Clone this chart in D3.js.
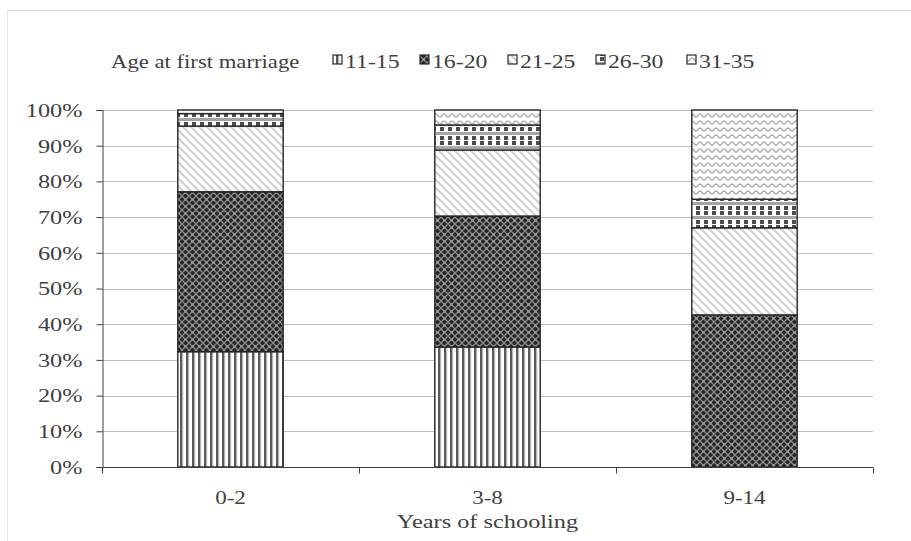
<!DOCTYPE html>
<html>
<head>
<meta charset="utf-8">
<script src="https://cdn.jsdelivr.net/npm/d3@7"></script>
<style>
  html, body { margin: 0; padding: 0; background: #fff; }
  svg { display: block; }
  text { font-family: "Liberation Serif", "DejaVu Serif", serif; fill: #404040; }
</style>
</head>
<body>
<svg id="chart" width="911" height="541"></svg>
<script>
// ---- data ----
const categories = ["0-2", "3-8", "9-14"];
const seriesNames = ["11-15", "16-20", "21-25", "26-30", "31-35"];
const s11_15 = [32.3, 33.6, 0.0];
const s16_20 = [44.8, 36.7, 42.6];
const s21_25 = [18.4, 18.5, 24.4];
const s26_30 = [3.5, 7.0, 8.0];
const s31_35 = [1.0, 4.2, 25.0];
const yTicks = [0, 10, 20, 30, 40, 50, 60, 70, 80, 90, 100];
const legendTitle = "Age at first marriage";
const xTitle = "Years of schooling";

const seriesValues = [s11_15, s16_20, s21_25, s26_30, s31_35];
const rows = categories.map((c, i) => {
  const r = { cat: c };
  seriesNames.forEach((s, j) => r[s] = seriesValues[j][i]);
  return r;
});

const svg = d3.select("#chart");
const W = 911, H = 541;
const mLeft = 102, mRight = 873, mTop = 110, mBottom = 467;

// frame
svg.append("line").attr("x1", 7).attr("x2", W).attr("y1", 10.5).attr("y2", 10.5)
  .attr("stroke", "#d9d9d9").attr("stroke-width", 1);
svg.append("line").attr("x1", 7.5).attr("x2", 7.5).attr("y1", 10).attr("y2", H)
  .attr("stroke", "#e6e6e6").attr("stroke-width", 1);

// patterns
const defs = svg.append("defs");
const p1 = defs.append("pattern").attr("id", "p0").attr("patternUnits", "userSpaceOnUse")
  .attr("width", 6).attr("height", 6);
p1.append("rect").attr("width", 6).attr("height", 6).attr("fill", "#fff");
p1.append("rect").attr("x", 0).attr("width", 2.4).attr("height", 6).attr("fill", "#5a5a5a");
p1.append("rect").attr("x", 2.4).attr("width", 0.8).attr("height", 6).attr("fill", "#b0b0b0");
const p2 = defs.append("pattern").attr("id", "p1").attr("patternUnits", "userSpaceOnUse")
  .attr("width", 7).attr("height", 7);
p2.append("rect").attr("width", 7).attr("height", 7).attr("fill", "#262626");
p2.append("path").attr("d", "M0,0 L7,7 M7,0 L0,7").attr("stroke", "#8a8a8a").attr("stroke-width", 1.3);
p2.append("circle").attr("cx", 3.5).attr("cy", 3.5).attr("r", 1.2).attr("fill", "#9a9a9a");
const p3 = defs.append("pattern").attr("id", "p2").attr("patternUnits", "userSpaceOnUse")
  .attr("width", 8).attr("height", 8);
p3.append("rect").attr("width", 8).attr("height", 8).attr("fill", "#fff");
p3.append("path").attr("d", "M-2,-2 L10,10 M-2,6 L2,10 M6,-2 L10,2")
  .attr("stroke", "#cfcfcf").attr("stroke-width", 2);
const p4 = defs.append("pattern").attr("id", "p3").attr("patternUnits", "userSpaceOnUse")
  .attr("width", 8).attr("height", 14);
p4.append("rect").attr("width", 8).attr("height", 14).attr("fill", "#fff");
p4.append("rect").attr("x", 0).attr("y", 1).attr("width", 4).attr("height", 4).attr("fill", "#4d4d4d");
p4.append("rect").attr("x", 0).attr("y", 6).attr("width", 8).attr("height", 3).attr("fill", "#a6a6a6");
p4.append("rect").attr("x", 0).attr("y", 10).attr("width", 4).attr("height", 4).attr("fill", "#4d4d4d");
const p5 = defs.append("pattern").attr("id", "p4").attr("patternUnits", "userSpaceOnUse")
  .attr("width", 8).attr("height", 7);
p5.append("rect").attr("width", 8).attr("height", 7).attr("fill", "#fff");
p5.append("path").attr("d", "M0,5 C2,5 2,2 4,2 C6,2 6,5 8,5").attr("fill", "none")
  .attr("stroke", "#b0b0b0").attr("stroke-width", 1.5);

// scales
const x = d3.scaleBand().domain(categories).range([mLeft, mRight])
  .paddingInner(0.59).paddingOuter(0.295);
const y = d3.scaleLinear().domain([0, 100]).range([mBottom, mTop]);

// gridlines
svg.append("g").selectAll("line").data(yTicks.filter(t => t > 0)).join("line")
  .attr("x1", mLeft).attr("x2", mRight)
  .attr("y1", d => Math.round(y(d)) + 0.5).attr("y2", d => Math.round(y(d)) + 0.5)
  .attr("stroke", "#bfbfbf").attr("stroke-width", 1);

// bars
const stack = d3.stack().keys(seriesNames)(rows);
const g = svg.append("g");
stack.forEach((layer, li) => {
  g.selectAll(null).data(layer.filter(d => d[1] - d[0] > 0)).join("rect")
    .attr("x", d => x(d.data.cat))
    .attr("width", x.bandwidth())
    .attr("y", d => y(d[1]))
    .attr("height", d => y(d[0]) - y(d[1]))
    .attr("fill", `url(#p${li})`)
    .attr("stroke", "#262626").attr("stroke-width", 1.4);
});

// stretch helper (reference text is horizontally wide)
function stretch(sel, k) {
  sel.each(function () {
    const L = this.getComputedTextLength();
    this.setAttribute("textLength", (L * k).toFixed(1));
    this.setAttribute("lengthAdjust", "spacingAndGlyphs");
  });
}

// y axis
const yAxis = d3.axisLeft(y).tickValues(yTicks).tickFormat(d => d + "%").tickSize(6).tickPadding(8);
const ya = svg.append("g").attr("transform", `translate(${mLeft + 0.5},0)`).call(yAxis);
ya.select(".domain").attr("stroke", "#404040");
ya.selectAll(".tick line").attr("stroke", "#404040");
const yt = ya.selectAll(".tick text").style("font-family", "'Liberation Serif', serif")
  .style("font-size", "18px").attr("fill", "#4a4a4a").attr("dy", "0.35em").attr("x", -20);
stretch(yt, 1.35);

// x axis
const xa = svg.append("g").attr("transform", `translate(0,${mBottom + 0.5})`);
xa.append("line").attr("x1", mLeft).attr("x2", mRight).attr("stroke", "#404040");
const bounds = d3.range(categories.length + 1).map(i => mLeft + i * x.step());
xa.selectAll(".sep").data(bounds).join("line").attr("class", "sep")
  .attr("x1", d => Math.round(d) + 0.5).attr("x2", d => Math.round(d) + 0.5)
  .attr("y1", 0).attr("y2", 6).attr("stroke", "#404040");
const xl = xa.selectAll(".lbl").data(categories).join("text").attr("class", "lbl")
  .attr("x", d => x(d) + x.bandwidth() / 2).attr("y", 36)
  .attr("text-anchor", "middle").style("font-size", "18px").text(d => d);
stretch(xl, 1.28);
const xt = svg.append("text").attr("x", (x("3-8") + x.bandwidth() / 2)).attr("y", 528)
  .attr("text-anchor", "middle").style("font-size", "19px").text(xTitle);
stretch(xt, 1.28);

// legend
const leg = svg.append("g");
const lt = leg.append("text").attr("x", 111).attr("y", 68).style("font-size", "18px").text(legendTitle);
stretch(lt, 1.26);
const legX = [333, 420, 508, 596, 687];
seriesNames.forEach((s, i) => {
  leg.append("rect").attr("x", legX[i]).attr("y", 55).attr("width", 9).attr("height", 9)
    .attr("fill", `url(#p${i})`).attr("stroke", "#262626").attr("stroke-width", 1.2);
  const t = leg.append("text").attr("x", legX[i] + 12).attr("y", 68).style("font-size", "18px").text(s);
  stretch(t, 1.32);
});
</script>
</body>
</html>
